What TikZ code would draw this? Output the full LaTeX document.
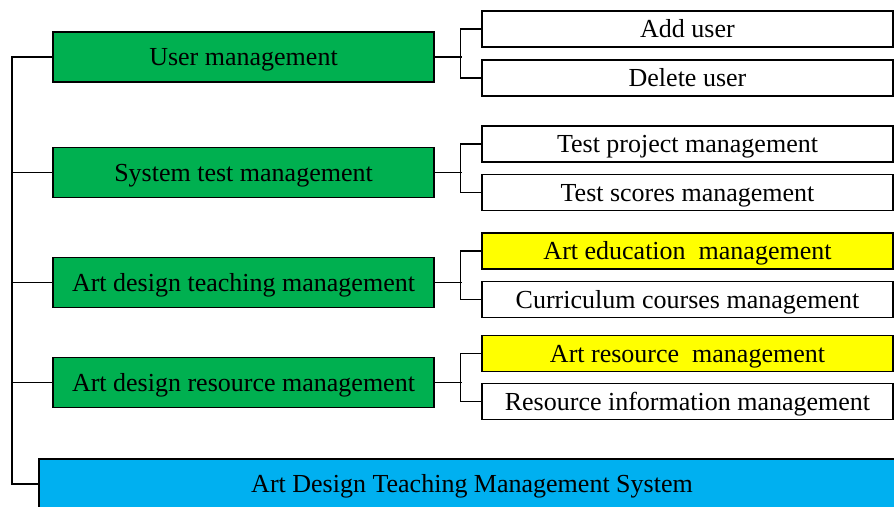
\documentclass[tikz,border=0pt]{standalone}
\usepackage{fontspec}
\setmainfont{Liberation Serif}
\definecolor{grn}{RGB}{0,176,80}
\definecolor{ylw}{RGB}{255,255,0}
\definecolor{blu}{RGB}{0,176,240}
\begin{document}
\begin{tikzpicture}[x=1pt,y=-1pt,
  box/.style={draw=black, line width=1.3pt, rectangle, inner sep=0pt, text height=17.2pt, text depth=0pt, font=\fontsize{26}{31}\selectfont},
  mainbox/.style={box, fill=grn, minimum width=381pt, minimum height=50pt},
  subbox/.style={box, fill=white, minimum width=411pt, minimum height=36pt},
  hibox/.style={subbox, fill=ylw},
  rootbox/.style={box, fill=blu, minimum width=866pt, minimum height=50pt},
  conn/.style={draw=black, line width=1.3pt}]
\clip (0,0) rectangle (894,506);
\fill[white] (0,0) rectangle (894,506);
% main boxes
\node[mainbox] (um) at (243.5,57) {User management};
\node[mainbox] (st) at (243.5,172.5) {System test management};
\node[mainbox] (at) at (243.5,282.5) {Art design teaching management};
\node[mainbox] (ar) at (243.5,382.5) {Art design resource management};
% sub boxes
\node[subbox] (au) at (687.5,29) {Add user};
\node[subbox] (du) at (687.5,78) {Delete user};
\node[subbox] (tp) at (687.5,144) {Test project management};
\node[subbox] (ts) at (687.5,192.5) {Test scores management};
\node[hibox] (ae) at (687.5,251) {Art education~ management};
\node[subbox] (cc) at (687.5,299.5) {Curriculum courses management};
\node[hibox] (rm) at (687.5,353.5) {Art resource~ management};
\node[subbox] (ri) at (687.5,401.5) {Resource information management};
% root
\node[rootbox] (root) at (472,484) {Art Design Teaching Management System};
% trunk
\coordinate (ttop) at (12,57);
\coordinate (tbot) at (12,484);
\draw[conn] (um.west) -- (ttop) -- (tbot) -- (root.west);
\draw[conn] (st.west) -- (st.west -| ttop);
\draw[conn] (at.west) -- (at.west -| ttop);
\draw[conn] (ar.west) -- (ar.west -| ttop);
% brackets
\foreach \m/\a/\b in {um/au/du, st/tp/ts, at/ae/cc, ar/rm/ri}{
  \draw[conn] (\m.east) -- ++(27,0);
  \draw[conn] (\a.west) -- ++(-21,0) |- (\b.west);
}
\end{tikzpicture}
\end{document}
